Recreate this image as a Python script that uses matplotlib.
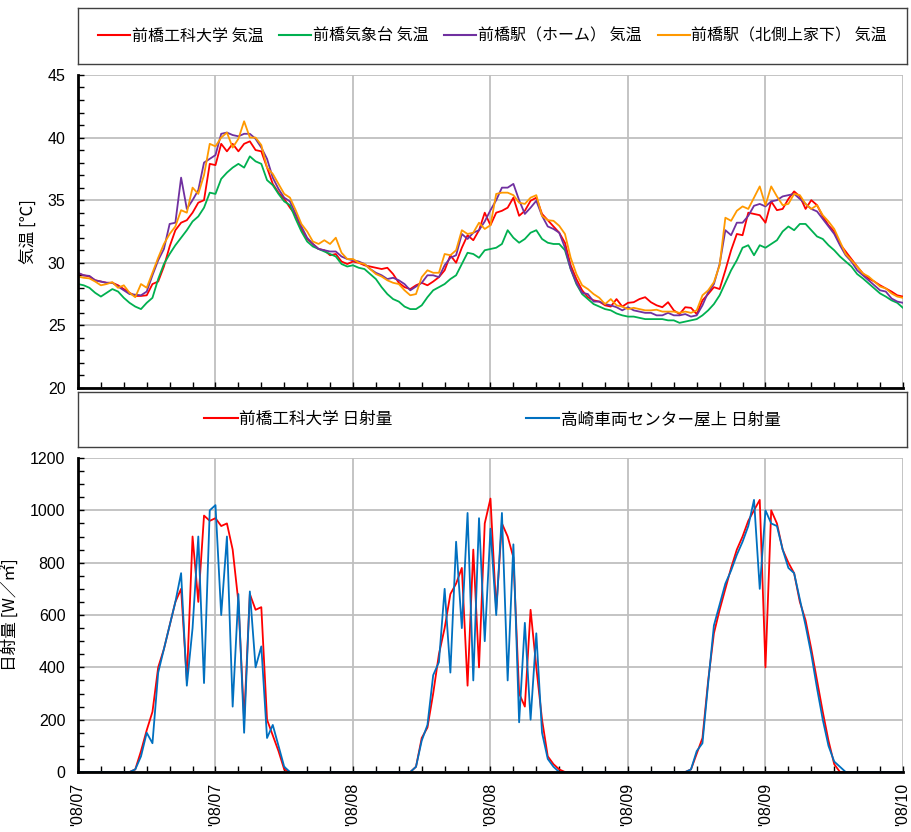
import numpy as np
import matplotlib.pyplot as plt
from matplotlib.ticker import MultipleLocator
from matplotlib.lines import Line2D

plt.rcParams['font.family'] = ['Noto Sans CJK JP', 'DejaVu Sans']

# half-hourly samples, 3 days
hours = np.arange(0, 72.5, 0.5)
tick_hours = [0, 12, 24, 36, 48, 60, 72]
tick_labels = ["'08/07", "'08/07", "'08/08", "'08/08", "'08/09", "'08/09", "'08/10"]

temp_names = ["前橋工科大学 気温", "前橋気象台 気温", "前橋駅（ホーム） 気温", "前橋駅（北側上家下） 気温"]
temp_colors = ["#FF0000", "#00B050", "#7030A0", "#FF9900"]

t_kit = [29.15, 29.0, 28.9, 28.6, 28.5, 28.4, 28.4, 28.2, 27.9, 27.6, 27.35, 27.35, 27.4, 28.3, 28.5, 29.7,
         31.3, 32.6, 33.2, 33.4, 34.0, 34.8, 35.0, 37.9, 37.8, 39.5, 38.9, 39.5, 38.9, 39.5, 39.7, 39.0,
         38.9, 37.6, 36.3, 35.6, 35.1, 34.4, 33.8, 32.7, 31.9, 31.5, 31.1, 31.0, 30.6, 30.7, 30.1, 29.9,
         30.1, 30.0, 29.8, 29.7, 29.6, 29.5, 29.6, 29.1, 28.4, 28.05, 27.9, 28.2, 28.4, 28.2, 28.5, 28.85,
         29.4, 30.6, 30.0, 31.2, 32.2, 31.8, 32.6, 34.0, 33.0, 34.0, 34.15, 34.4, 35.2, 33.75, 34.15, 34.95,
         35.2, 33.9, 33.4, 32.9, 32.4, 31.6, 29.8, 28.7, 27.8, 27.25, 27.0, 26.9, 26.6, 26.5, 27.1, 26.5,
         26.8, 26.85, 27.1, 27.25, 26.85, 26.6, 26.45, 26.85, 26.2, 25.9, 26.45, 26.4, 25.9, 27.0, 27.5, 28.05,
         27.9, 29.4, 31.0, 32.3, 32.2, 34.0, 33.9, 33.8, 33.2, 34.9, 34.2, 34.3, 35.1, 35.7, 35.3, 34.3,
         35.0, 34.6, 33.7, 33.0, 32.5, 31.5, 30.9, 30.3, 29.7, 29.15, 28.75, 28.5, 28.2, 27.95, 27.7, 27.4,
         27.3]
t_jma = [28.3, 28.2, 28.0, 27.6, 27.3, 27.6, 27.9, 27.7, 27.2, 26.8, 26.5, 26.3, 26.8, 27.2, 28.7, 29.9,
         30.7, 31.4, 32.0, 32.6, 33.3, 33.7, 34.4, 35.6, 35.5, 36.7, 37.2, 37.6, 37.9, 37.6, 38.5, 38.1,
         37.9, 36.6, 36.2, 35.5, 34.9, 34.6, 33.5, 32.5, 31.7, 31.3, 31.1, 30.9, 30.7, 30.5, 29.9, 29.7,
         29.8, 29.6, 29.5, 29.1, 28.7, 28.05, 27.5, 27.1, 26.9, 26.5, 26.3, 26.3, 26.6, 27.25, 27.8, 28.05,
         28.3, 28.7, 29.0, 29.9, 30.8, 30.7, 30.4, 31.0, 31.1, 31.2, 31.5, 32.6, 32.0, 31.6, 31.9, 32.4,
         32.6, 31.9, 31.6, 31.5, 31.5, 31.0, 29.5, 28.3, 27.5, 27.1, 26.7, 26.5, 26.3, 26.2, 25.95, 25.8,
         25.7, 25.7, 25.6, 25.5, 25.5, 25.5, 25.5, 25.4, 25.4, 25.2, 25.3, 25.4, 25.5, 25.8, 26.2, 26.7,
         27.4, 28.4, 29.4, 30.2, 31.2, 31.4, 30.6, 31.4, 31.2, 31.5, 31.8, 32.5, 32.9, 32.6, 33.1, 33.1,
         32.6, 32.1, 31.9, 31.4, 31.0, 30.5, 30.1, 29.7, 29.1, 28.75, 28.35, 27.95, 27.55, 27.3, 27.0, 26.8,
         26.4]
t_home = [29.2, 29.0, 28.95, 28.6, 28.5, 28.4, 28.4, 28.1, 27.8, 27.5, 27.45, 27.4, 27.7, 29.0, 30.2, 31.1,
          33.1, 33.2, 36.8, 34.3, 35.0, 35.8, 38.0, 38.3, 38.6, 40.3, 40.4, 40.2, 40.1, 40.3, 40.3, 39.9,
          39.2, 38.3, 36.8, 35.9, 35.2, 34.9, 33.9, 32.9, 32.0, 31.5, 31.1, 31.0, 30.9, 30.9, 30.5, 30.3,
          30.2, 30.1, 29.9, 29.5, 29.2, 29.0, 28.7, 28.8, 28.6, 28.3, 27.8, 28.1, 28.4, 29.0, 29.0, 28.85,
          29.8, 30.4, 30.6, 32.3, 31.9, 32.4, 32.6, 33.3, 34.2, 35.0, 36.0, 36.0, 36.3, 35.0, 33.9, 34.4,
          34.95, 33.75, 32.9, 32.7, 32.4, 31.2, 29.5, 28.4, 27.6, 27.5, 26.9, 26.9, 26.7, 26.6, 26.45, 26.2,
          26.45, 26.2, 26.1, 26.0, 26.0, 25.8, 25.8, 26.0, 25.8, 25.8, 25.9, 25.7, 25.8, 26.6, 27.65, 28.3,
          29.9, 32.6, 32.2, 33.2, 33.2, 33.75, 34.55, 34.7, 34.5, 34.9, 35.0, 35.3, 35.4, 35.5, 35.1, 34.7,
          34.3, 34.1, 33.5, 32.9, 32.3, 31.4, 30.6, 30.1, 29.4, 29.0, 28.6, 28.2, 27.8, 27.7, 27.15, 26.9,
          26.8]
t_roof = [28.9, 28.8, 28.75, 28.5, 28.2, 28.3, 28.45, 28.0, 28.2, 27.6, 27.25, 28.3, 28.0, 29.2, 30.4, 31.5,
          32.3, 32.9, 34.2, 34.0, 36.0, 35.5, 37.0, 39.5, 39.3, 40.0, 40.4, 39.2, 39.9, 41.3, 40.0, 40.0,
          39.4, 37.6, 37.1, 36.3, 35.5, 35.2, 34.2, 33.1, 32.5, 31.7, 31.5, 31.8, 31.5, 32.0, 30.8, 30.3,
          30.3, 30.0, 29.9, 29.5, 29.1, 28.9, 28.6, 28.4, 28.3, 27.8, 27.4, 27.5, 28.85, 29.4, 29.2, 29.2,
          30.7, 30.6, 31.0, 32.6, 32.3, 32.4, 33.2, 32.7, 33.0, 35.5, 35.6, 35.6, 35.4, 34.8, 34.7, 35.2,
          35.4, 33.75, 33.4, 33.35, 32.95, 32.3, 30.4, 29.1, 28.2, 27.9, 27.5, 27.2, 26.7, 27.1, 26.6, 26.5,
          26.3, 26.4, 26.3, 26.2, 26.2, 26.25, 26.1, 26.1, 26.1, 26.0, 26.1, 26.0, 26.2, 27.4, 27.8, 28.45,
          29.8, 33.6, 33.35, 34.15, 34.5, 34.3, 35.2, 36.1, 34.6, 36.1, 35.3, 34.6, 34.7, 35.5, 35.4, 34.7,
          34.3, 34.6, 33.8, 33.3, 32.7, 31.7, 30.7, 30.2, 29.7, 29.15, 28.9, 28.5, 28.1, 27.95, 27.55, 27.3,
          27.2]

rad_names = ["前橋工科大学 日射量", "高崎車両センター屋上 日射量"]
rad_colors = ["#FF0000", "#0070C0"]

r_kit = [0, 0, 0, 0, 0, 0, 0, 0, 0, 0, 10, 80, 160, 230, 400, 470,
         560, 650, 700, 350, 900, 650, 980, 960, 970, 940, 950, 850, 650, 200, 680, 620,
         630, 200, 140, 80, 10, 0, 0, 0, 0, 0, 0, 0, 0, 0, 0, 0,
         0, 0, 0, 0, 0, 0, 0, 0, 0, 0, 0, 20, 130, 170, 300, 450,
         550, 680, 720, 780, 330, 850, 400, 950, 1045, 620, 950, 900, 820, 300, 250, 620,
         400, 200, 60, 30, 10, 0, 0, 0, 0, 0, 0, 0, 0, 0, 0, 0,
         0, 0, 0, 0, 0, 0, 0, 0, 0, 0, 0, 10, 70, 130, 350, 530,
         620, 700, 780, 850, 900, 960, 1000, 1040, 400, 1000, 950, 850, 800, 760, 650, 580,
         470, 350, 230, 120, 30, 0, 0, 0, 0, 0, 0, 0, 0, 0, 0, 0,
         0]
r_takasaki = [0, 0, 0, 0, 0, 0, 0, 0, 0, 0, 10, 60, 150, 110, 380, 470,
              560, 650, 760, 330, 550, 900, 340, 1000, 1020, 600, 900, 250, 680, 150, 690, 400,
              480, 130, 180, 100, 20, 0, 0, 0, 0, 0, 0, 0, 0, 0, 0, 0,
              0, 0, 0, 0, 0, 0, 0, 0, 0, 0, 0, 20, 120, 180, 370, 420,
              700, 380, 880, 550, 990, 350, 970, 500, 930, 600, 990, 350, 870, 190, 570, 200,
              530, 150, 50, 20, 0, 0, 0, 0, 0, 0, 0, 0, 0, 0, 0, 0,
              0, 0, 0, 0, 0, 0, 0, 0, 0, 0, 0, 10, 80, 110, 340, 560,
              640, 720, 770, 830, 880, 940, 1040, 700, 1000, 950, 940, 850, 780, 760, 660, 560,
              450, 320, 200, 100, 40, 20, 0, 0, 0, 0, 0, 0, 0, 0, 0, 0,
              0]

GRID = "#BFBFBF"
NUM_FONT = ['Liberation Sans', 'DejaVu Sans']

fig = plt.figure(figsize=(9.12, 8.32), dpi=100)
fig.patch.set_facecolor("white")

ax1 = fig.add_axes([0.0855, 0.5337, 0.9046, 0.3762])
ax2 = fig.add_axes([0.0855, 0.0721, 0.9046, 0.3774])
lg1 = fig.add_axes([0.0855, 0.923, 0.909, 0.067])
lg2 = fig.add_axes([0.0855, 0.4627, 0.909, 0.066])

for series, c in zip([t_kit, t_jma, t_home, t_roof], temp_colors):
    ax1.plot(hours, series, color=c, lw=1.3)
for series, c in zip([r_kit, r_takasaki], rad_colors):
    ax2.plot(hours, series, color=c, lw=1.3)

ax1.set_ylim(20, 45)
ax1.yaxis.set_major_locator(MultipleLocator(5))
ax1.yaxis.set_minor_locator(MultipleLocator(1))
ax2.set_ylim(0, 1200)
ax2.yaxis.set_major_locator(MultipleLocator(200))
ax2.yaxis.set_minor_locator(MultipleLocator(50))

for ax in (ax1, ax2):
    ax.set_xlim(0, 72)
    ax.set_xticks(tick_hours)
    ax.xaxis.set_minor_locator(MultipleLocator(2))
    ax.grid(True, which='major', color=GRID, lw=1.3)
    ax.set_axisbelow(True)
    for s in ('top', 'right'):
        ax.spines[s].set_visible(False)
    for s in ('left', 'bottom'):
        ax.spines[s].set_linewidth(2)
        ax.spines[s].set_color('black')
    ax.tick_params(which='both', direction='in', length=4, width=1, colors='black')
    ax.tick_params(axis='y', which='major', pad=9, labelsize=11.5)
    for lab in ax.get_yticklabels():
        lab.set_family(NUM_FONT)

ax1.tick_params(axis='x', labelbottom=False)
ax2.set_xticklabels(tick_labels, rotation=90, fontsize=11.5, family=NUM_FONT, va='top')
ax2.tick_params(axis='x', pad=8)

ax1.set_ylabel("気温 [℃]", fontsize=12, labelpad=7)
ax2.set_ylabel("日射量 [W／㎡]", fontsize=12, labelpad=7)

for lg in (lg1, lg2):
    lg.set_xticks([])
    lg.set_yticks([])
    for s in lg.spines.values():
        s.set_color('#404040')
        s.set_linewidth(1)

h1 = [Line2D([], [], color=c, lw=1.5) for c in temp_colors]
lg1.legend(h1, temp_names, loc='center', ncol=4, frameon=False, fontsize=11.5,
           handlelength=2.0, handletextpad=0.1, columnspacing=1.0)
h2 = [Line2D([], [], color=c, lw=1.5) for c in rad_colors]
lg2.legend(h2, rad_names, loc='center', ncol=2, frameon=False, fontsize=12,
           handlelength=2.0, handletextpad=0.1, columnspacing=8)

fig.savefig("out.png", dpi=100)
